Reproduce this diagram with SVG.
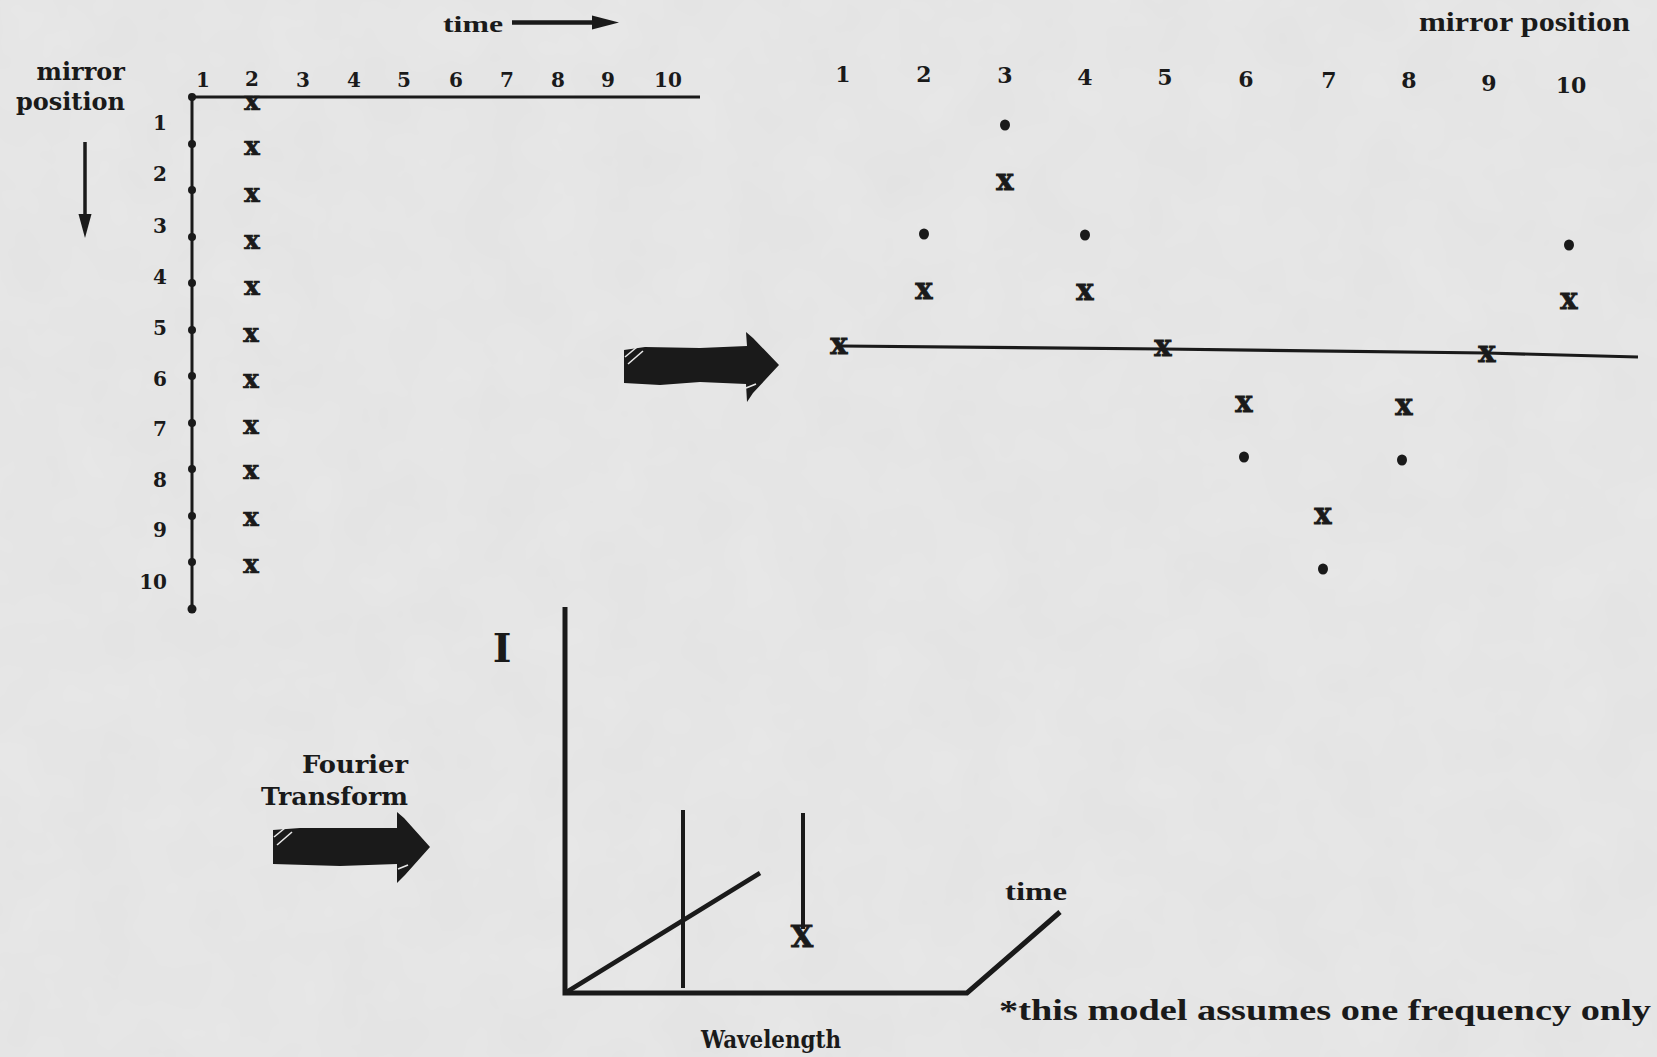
<svg xmlns="http://www.w3.org/2000/svg" width="1657" height="1057" viewBox="0 0 1657 1057">
<defs>
<style>
.t{font-family:"DejaVu Serif","Liberation Serif",serif;font-weight:bold;fill:#1a1a1a}
.c{font-family:"Liberation Serif","DejaVu Serif",serif;font-weight:bold;fill:#1a1a1a}
.n{font-size:20px;text-anchor:middle}
.rl{font-size:20px;text-anchor:end}
.rn{font-size:22px;text-anchor:middle}
.xl{font-size:26px;text-anchor:middle;stroke:#1a1a1a;stroke-width:0.7}
.xr{font-size:29px;text-anchor:middle;stroke:#1a1a1a;stroke-width:0.8}
.ln{stroke:#1a1a1a;fill:none}
.dot{fill:#1a1a1a}
.scr{stroke:#e8e8e8;stroke-width:1.6;fill:none}
</style>
<filter id="paper" x="0" y="0" width="100%" height="100%">
<feTurbulence type="fractalNoise" baseFrequency="0.015" numOctaves="3" seed="4"/>
<feColorMatrix type="matrix" values="0 0 0 0 0.5  0 0 0 0 0.5  0 0 0 0 0.5  0 0 0 0.12 0"/>
</filter>
</defs>
<rect width="1657" height="1057" fill="#e8e8e8"/>
<rect width="1657" height="1057" filter="url(#paper)"/>

<g id="connectors">
  <!-- time arrow top -->
  <line class="ln" x1="512" y1="22.5" x2="596" y2="22.5" stroke-width="4.5"/>
  <polygon class="dot" points="592,15.5 619,22.5 592,29.5"/>
  <!-- down arrow -->
  <line class="ln" x1="85" y1="142" x2="85" y2="220" stroke-width="3.5"/>
  <polygon class="dot" points="78.5,214 91.5,214 85,238"/>
  <!-- left axes -->
  <polyline class="ln" points="700,97 192,97 192,609" stroke-width="3"/>
  <!-- right horizontal line -->
  <polyline class="ln" points="841,346 1163,349 1487,353 1638,357" stroke-width="3.2"/>
  <!-- bottom plot axes -->
  <polyline class="ln" points="565,607 565,993 967,993 1060,912" stroke-width="5" stroke-linejoin="miter"/>
  <line class="ln" x1="565" y1="993" x2="760" y2="873" stroke-width="4.5"/>
  <line class="ln" x1="683" y1="810" x2="683" y2="988" stroke-width="4"/>
  <line class="ln" x1="803" y1="813" x2="803" y2="929" stroke-width="4"/>
</g>

<g id="fat-arrow-1">
  <polygon class="dot" points="624,350 645,347 700,348 747,346 746,332 753,338 779,365 753,393 747,402 746,384 700,382 660,385 624,383"/>
  <line class="scr" x1="625" y1="357" x2="637" y2="347"/>
  <line class="scr" x1="628" y1="364" x2="643" y2="351"/>
  <line class="scr" x1="746" y1="388" x2="756" y2="384"/>
</g>

<g id="fat-arrow-2">
  <polygon class="dot" points="273,830 300,828 350,828 397,828 397,812 404,818 430,847 405,875 397,883 397,864 340,866 273,864"/>
  <line class="scr" x1="274" y1="837" x2="285" y2="828"/>
  <line class="scr" x1="277" y1="845" x2="292" y2="832"/>
  <line class="scr" x1="398" y1="869" x2="408" y2="865"/>
</g>

<g id="labels">
  <text class="c" x="443" y="32" font-size="24" textLength="60" lengthAdjust="spacingAndGlyphs">time</text>
  <text class="t" x="125" y="80" font-size="24" text-anchor="end">mirror</text>
  <text class="t" x="125" y="110" font-size="24" text-anchor="end">position</text>
  <text class="c" x="1419" y="31" font-size="27" textLength="211" lengthAdjust="spacingAndGlyphs">mirror position</text>
  <text class="t" x="502" y="662" font-size="40" text-anchor="middle">I</text>
  <text class="t" x="302" y="773" font-size="24" textLength="106" lengthAdjust="spacingAndGlyphs">Fourier</text>
  <text class="t" x="261" y="805" font-size="24" textLength="147" lengthAdjust="spacingAndGlyphs">Transform</text>
  <text class="c" x="1005" y="900" font-size="25" textLength="62" lengthAdjust="spacingAndGlyphs">time</text>
  <text class="t" x="701" y="1048" font-size="25" textLength="140" lengthAdjust="spacingAndGlyphs">Wavelength</text>
  <text class="c" x="999" y="1020" font-size="29" textLength="652" lengthAdjust="spacingAndGlyphs">*this model assumes one frequency only</text>
</g>

<g id="left-grid">
  <g id="col-numbers">
    <text class="t n" x="203" y="87">1</text>
    <text class="t n" x="252" y="86">2</text>
    <text class="t n" x="303" y="87">3</text>
    <text class="t n" x="354" y="87">4</text>
    <text class="t n" x="404" y="87">5</text>
    <text class="t n" x="456" y="87">6</text>
    <text class="t n" x="507" y="87">7</text>
    <text class="t n" x="558" y="87">8</text>
    <text class="t n" x="608" y="87">9</text>
    <text class="t n" x="668" y="87">10</text>
  </g>
  <g id="row-numbers">
    <text class="t rl" x="167" y="130">1</text>
    <text class="t rl" x="167" y="181">2</text>
    <text class="t rl" x="167" y="233">3</text>
    <text class="t rl" x="167" y="284">4</text>
    <text class="t rl" x="167" y="335">5</text>
    <text class="t rl" x="167" y="386">6</text>
    <text class="t rl" x="167" y="436">7</text>
    <text class="t rl" x="167" y="487">8</text>
    <text class="t rl" x="167" y="537">9</text>
    <text class="t rl" x="167" y="589">10</text>
  </g>
  <g id="axis-dots">
    <circle class="dot" cx="192" cy="97" r="4"/>
    <circle class="dot" cx="192" cy="144" r="4"/>
    <circle class="dot" cx="192" cy="190" r="4"/>
    <circle class="dot" cx="192" cy="237" r="4"/>
    <circle class="dot" cx="192" cy="283" r="4"/>
    <circle class="dot" cx="192" cy="330" r="4"/>
    <circle class="dot" cx="192" cy="376" r="4"/>
    <circle class="dot" cx="192" cy="423" r="4"/>
    <circle class="dot" cx="192" cy="469" r="4"/>
    <circle class="dot" cx="192" cy="516" r="4"/>
    <circle class="dot" cx="192" cy="562" r="4"/>
    <circle class="dot" cx="192" cy="609" r="4.5"/>
  </g>
  <g id="left-x-marks">
    <text class="t xl" x="252" y="110">x</text>
    <text class="t xl" x="252" y="155">x</text>
    <text class="t xl" x="252" y="202">x</text>
    <text class="t xl" x="252" y="249">x</text>
    <text class="t xl" x="252" y="295">x</text>
    <text class="t xl" x="251" y="342">x</text>
    <text class="t xl" x="251" y="388">x</text>
    <text class="t xl" x="251" y="434">x</text>
    <text class="t xl" x="251" y="479">x</text>
    <text class="t xl" x="251" y="526">x</text>
    <text class="t xl" x="251" y="573">x</text>
  </g>
</g>

<g id="right-grid">
  <g id="right-numbers">
    <text class="t rn" x="843" y="82">1</text>
    <text class="t rn" x="924" y="82">2</text>
    <text class="t rn" x="1005" y="83">3</text>
    <text class="t rn" x="1085" y="85">4</text>
    <text class="t rn" x="1165" y="85">5</text>
    <text class="t rn" x="1246" y="87">6</text>
    <text class="t rn" x="1329" y="88">7</text>
    <text class="t rn" x="1409" y="88">8</text>
    <text class="t rn" x="1489" y="91">9</text>
    <text class="t rn" x="1571" y="93">10</text>
  </g>
  <g id="right-dots">
    <ellipse class="dot" cx="1005" cy="125" rx="5" ry="5.5"/>
    <ellipse class="dot" cx="924" cy="234" rx="5" ry="5.5"/>
    <ellipse class="dot" cx="1085" cy="235" rx="5" ry="5.5"/>
    <ellipse class="dot" cx="1569" cy="245" rx="5" ry="5.5"/>
    <ellipse class="dot" cx="1244" cy="457" rx="5" ry="5.5"/>
    <ellipse class="dot" cx="1402" cy="460" rx="5" ry="5.5"/>
    <ellipse class="dot" cx="1323" cy="569" rx="5" ry="5.5"/>
  </g>
  <g id="right-x-marks">
    <text class="t xr" x="1005" y="190">x</text>
    <text class="t xr" x="924" y="299">x</text>
    <text class="t xr" x="1085" y="300">x</text>
    <text class="t xr" x="1569" y="309">x</text>
    <text class="t xr" x="839" y="354">x</text>
    <text class="t xr" x="1163" y="356">x</text>
    <text class="t xr" x="1487" y="362">x</text>
    <text class="t xr" x="1244" y="412">x</text>
    <text class="t xr" x="1404" y="415">x</text>
    <text class="t xr" x="1323" y="524">x</text>
  </g>
</g>

<g id="spectrum-mark">
  <text class="t" x="802" y="947" font-size="29" text-anchor="middle" stroke="#1a1a1a" stroke-width="0.8">X</text>
</g>
</svg>
